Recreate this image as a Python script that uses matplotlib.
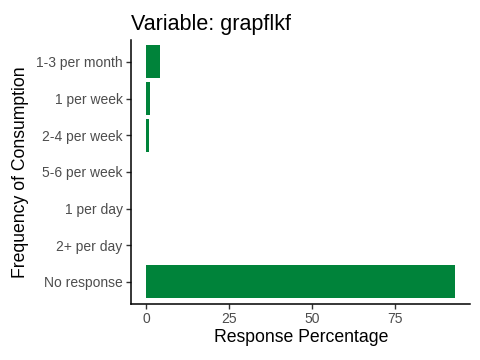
import matplotlib
matplotlib.use("Agg")
import matplotlib.pyplot as plt

plt.rcParams["font.family"] = ["Liberation Sans", "DejaVu Sans"]

categories = ["1-3 per month", "1 per week", "2-4 per week", "5-6 per week",
              "1 per day", "2+ per day", "No response"]
percentages = [4.1, 1.1, 0.8, 0.0, 0.0, 0.0, 93.0]
x_ticks = [0, 25, 50, 75]

fig = plt.figure(figsize=(4.8, 3.6), dpi=100)
ax = fig.add_axes([0.273, 0.156, 0.707, 0.733])

ypos = list(range(len(categories)))
ax.barh(ypos, percentages, height=0.9, color="#00833A")
ax.set_ylim(len(categories) - 0.4, -0.6)
ax.set_xlim(-4.65, 97.65)
ax.set_yticks(ypos)
ax.set_yticklabels(categories)
ax.set_xticks(x_ticks)

for side in ["top", "right"]:
    ax.spines[side].set_visible(False)
for side in ["left", "bottom"]:
    ax.spines[side].set_linewidth(1.1)
ax.tick_params(axis="both", labelsize=10, labelcolor="#4D4D4D", color="#333333",
               length=3.5, width=1.0, pad=2.5)

ax.set_xlabel("Response Percentage", fontsize=12.7, labelpad=2)
ax.set_ylabel("Frequency of Consumption", fontsize=12.7, labelpad=5)
ax.set_title("Variable: grapflkf", fontsize=15.5, loc="left", pad=7)
ax.title.set_position((-0.003, 1.0))

fig.savefig("out.png", dpi=100)
